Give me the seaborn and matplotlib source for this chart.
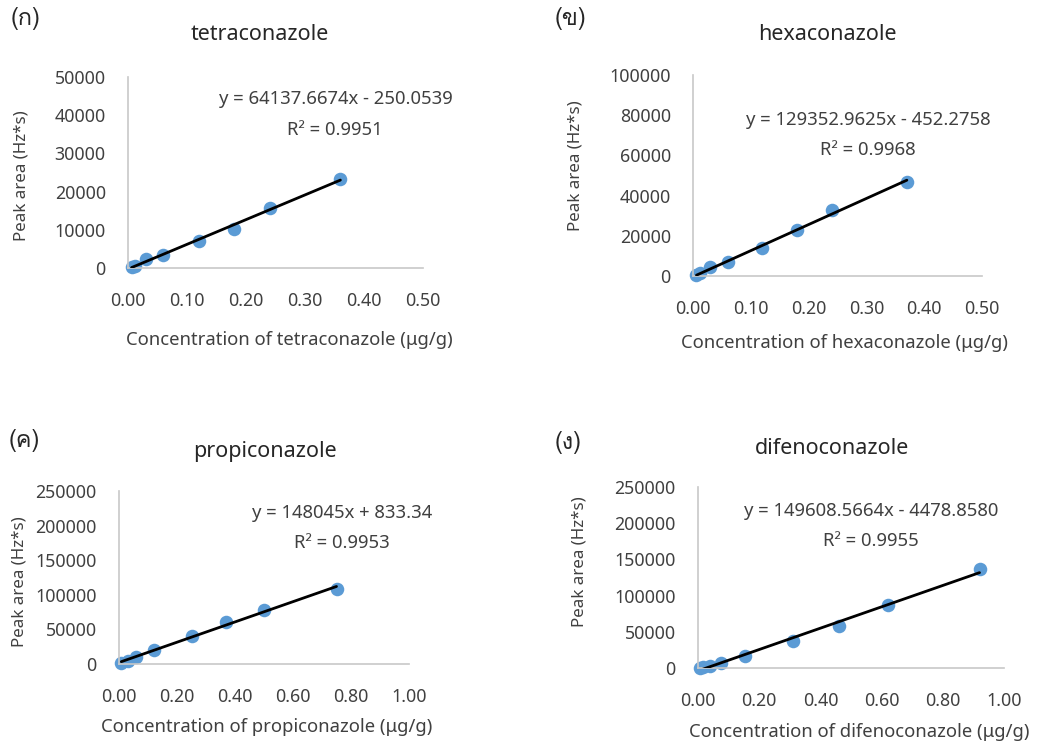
import matplotlib
matplotlib.use("Agg")
import matplotlib.pyplot as plt
import matplotlib.ticker as ticker
from matplotlib import font_manager
from matplotlib.ft2font import FT2Font
import numpy as np
import seaborn as sns

# ---- data ----
tetra_x = [0.006, 0.012, 0.03, 0.06, 0.12, 0.18, 0.24, 0.36]
tetra_y = [200, 500, 2400, 3500, 7000, 10300, 15800, 23300]

hexa_x = [0.006, 0.012, 0.03, 0.06, 0.12, 0.18, 0.24, 0.37]
hexa_y = [400, 1300, 4300, 6800, 13800, 22900, 32800, 46900]

propi_x = [0.008, 0.03, 0.06, 0.12, 0.25, 0.37, 0.50, 0.75]
propi_y = [1900, 4800, 9600, 20000, 40400, 61000, 78000, 107700]

difeno_x = [0.005, 0.015, 0.04, 0.075, 0.155, 0.31, 0.46, 0.62, 0.92]
difeno_y = [300, 1400, 3200, 6900, 17000, 36700, 58700, 86700, 136700]

names = ["tetraconazole", "hexaconazole", "propiconazole", "difenoconazole"]
panel_tags = ["(ก)", "(ข)", "(ค)", "(ง)"]
equations = [
    "y = 64137.6674x - 250.0539",
    "y = 129352.9625x - 452.2758",
    "y = 148045x + 833.34",
    "y = 149608.5664x - 4478.8580",
]
r2_texts = ["R² = 0.9951", "R² = 0.9968", "R² = 0.9953", "R² = 0.9955"]
y_max = [50000, 100000, 250000, 250000]
y_step = [10000, 20000, 50000, 50000]
x_max = [0.5, 0.5, 1.0, 1.0]
x_step = [0.1, 0.1, 0.2, 0.2]

W, H = 1038, 744
TXT = "#404040"
DOT = "#5b9bd5"
SPINE = "#c8c8c8"


def find_thai_font():
    """找一个带泰文字形的字体"""
    for f in font_manager.fontManager.ttflist:
        try:
            if 0x0E01 in FT2Font(f.fname).get_charmap():
                return f.name
        except Exception:
            continue
    return None


def box(left, top, right, bottom):
    return [left / W, 1 - bottom / H, (right - left) / W, (bottom - top) / H]


sns.set_theme(style="white")
plt.rcParams["font.family"] = ["Noto Sans", "DejaVu Sans"]
thai = find_thai_font()
tag_family = [thai, "DejaVu Sans"] if thai else ["DejaVu Sans"]

fig = plt.figure(figsize=(W / 100, H / 100), dpi=100)
fig.patch.set_facecolor("white")

# axes boxes in pixels: left, top, right, bottom
axes_px = [
    (128, 77, 423, 268),
    (693, 75, 982, 276),
    (119, 491, 409, 664),
    (698, 487, 1004, 668),
]
title_px = [(260, 35), (827, 35), (265, 452), (832, 448)]
tag_px = [(11, 18), (555, 18), (9, 440), (555, 443)]
eq_px = [(336, 99), (868, 120), (342, 513), (871, 511)]
r2_px = [(335, 130), (868, 150), (342, 543), (871, 541)]
xlab_px = [(289, 340), (844, 343), (267, 727), (859, 732)]
ylab_px = [(22, 176), (576, 166), (20, 582), (580, 562)]

data = [(tetra_x, tetra_y), (hexa_x, hexa_y), (propi_x, propi_y), (difeno_x, difeno_y)]

for i, (xs, ys) in enumerate(data):
    ax = fig.add_axes(box(*axes_px[i]))
    sns.regplot(x=np.array(xs), y=np.array(ys), ax=ax, ci=None,
                scatter_kws=dict(s=95, color=DOT, alpha=1, linewidths=0, zorder=2, clip_on=False),
                line_kws=dict(color="black", lw=2.0, zorder=3))
    ax.set_xlim(0, x_max[i])
    ax.set_ylim(0, y_max[i])
    ax.xaxis.set_major_locator(ticker.MultipleLocator(x_step[i]))
    ax.yaxis.set_major_locator(ticker.MultipleLocator(y_step[i]))
    ax.xaxis.set_major_formatter(ticker.FormatStrFormatter("%.2f"))
    ax.yaxis.set_major_formatter(ticker.FormatStrFormatter("%d"))
    for side in ["top", "right"]:
        ax.spines[side].set_visible(False)
    for side in ["left", "bottom"]:
        ax.spines[side].set_color(SPINE)
        ax.spines[side].set_linewidth(1.2)
    ax.tick_params(axis="both", direction="out", color=SPINE, width=1.2,
                   length=6, labelsize=12.8, labelcolor=TXT)
    ax.tick_params(axis="x", pad=11)
    ax.tick_params(axis="y", pad=10)
    ax.set_xlabel("")
    ax.set_ylabel("")

    fig.text(title_px[i][0] / W, 1 - title_px[i][1] / H, names[i],
             ha="center", va="center", fontsize=15.5, color="#262626")
    fig.text(tag_px[i][0] / W, 1 - tag_px[i][1] / H, panel_tags[i],
             ha="left", va="center", fontsize=17, color="#262626", family=tag_family)
    fig.text(eq_px[i][0] / W, 1 - eq_px[i][1] / H, equations[i],
             ha="center", va="center", fontsize=13.3, color=TXT)
    fig.text(r2_px[i][0] / W, 1 - r2_px[i][1] / H, r2_texts[i],
             ha="center", va="center", fontsize=13.3, color=TXT)
    fig.text(xlab_px[i][0] / W, 1 - xlab_px[i][1] / H,
             f"Concentration of {names[i]} (μg/g)",
             ha="center", va="center", fontsize=13.3, color=TXT)
    fig.text(ylab_px[i][0] / W, 1 - ylab_px[i][1] / H, "Peak area (Hz*s)",
             ha="center", va="center", fontsize=12.2, color=TXT, rotation=90)

fig.savefig("out.png", dpi=100, facecolor="white")
